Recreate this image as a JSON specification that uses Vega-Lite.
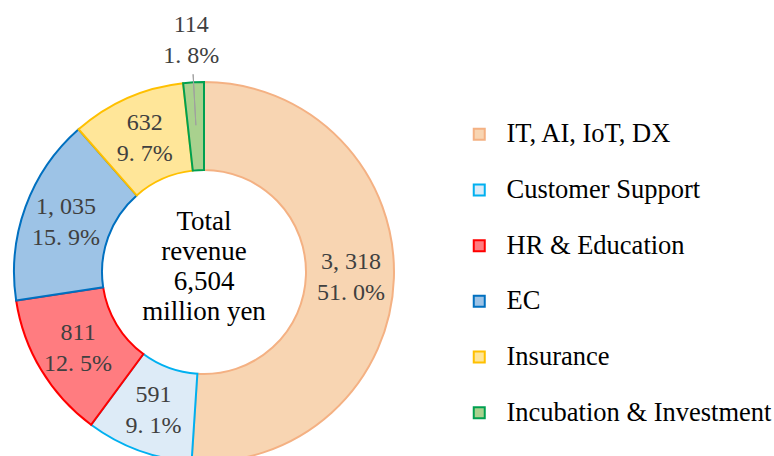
{
  "$schema": "https://vega.github.io/schema/vega-lite/v6.json",
  "width": 408,
  "height": 544,
  "padding": 0,
  "autosize": {"type": "pad"},
  "background": "white",
  "config": {"view": {"stroke": null}},
  "data": {"values": [
    {"cat": "IT, AI, IoT, DX", "value": 3318, "label": "3, 318\n51. 0%", "order": 1},
    {"cat": "Customer Support", "value": 591, "label": "591\n9. 1%", "order": 2},
    {"cat": "HR & Education", "value": 811, "label": "811\n12. 5%", "order": 3},
    {"cat": "EC", "value": 1035, "label": "1, 035\n15. 9%", "order": 4},
    {"cat": "Insurance", "value": 632, "label": "632\n9. 7%", "order": 5},
    {"cat": "Incubation & Investment", "value": 114, "label": "114\n1. 8%", "order": 6}
  ]},
  "layer": [
    {
      "mark": {"type": "arc", "radius": 190, "radius2": 102, "strokeWidth": 2},
      "encoding": {
        "theta": {"field": "value", "type": "quantitative", "stack": true},
        "order": {"field": "order", "type": "quantitative"},
        "fill": {
          "field": "cat", "type": "nominal",
          "scale": {
            "domain": ["IT, AI, IoT, DX", "Customer Support", "HR & Education", "EC", "Insurance", "Incubation & Investment"],
            "range": ["#F8D5B2", "#DDEBF7", "#FF7C80", "#9DC3E6", "#FFE699", "#A9D18E"]
          },
          "legend": {
            "orient": "none", "legendX": 466, "legendY": 121, "title": null,
            "labelFont": "Liberation Serif", "labelFontSize": 26.5, "labelColor": "black",
            "symbolType": "square", "symbolSize": 121, "symbolStrokeWidth": 2,
            "rowPadding": 28.7, "labelOffset": 14, "padding": 0, "labelLimit": 400
          }
        },
        "stroke": {
          "field": "cat", "type": "nominal",
          "scale": {
            "domain": ["IT, AI, IoT, DX", "Customer Support", "HR & Education", "EC", "Insurance", "Incubation & Investment"],
            "range": ["#F4B183", "#00B0F0", "#FF0000", "#0070C0", "#FFC000", "#00A050"]
          }
        }
      }
    },
    {
      "mark": {"type": "arc", "radius": 198, "radius2": 147, "padAngle": 0.4, "strokeWidth": 1, "fillOpacity": 0,
        "stroke": {"expr": "datum.cat === 'Incubation & Investment' ? '#a0a0a0' : 'transparent'"}},
      "encoding": {
        "theta": {"field": "value", "type": "quantitative", "stack": true},
        "order": {"field": "order", "type": "quantitative"}
      }
    },
    {
      "mark": {"type": "text", "radius": {"expr": "datum.cat === 'Incubation & Investment' ? 232 : 147"},
        "lineBreak": "\n", "font": "Liberation Serif", "fontSize": 24, "fill": "#404040", "lineHeight": 31, "dy": -15},
      "encoding": {
        "theta": {"field": "value", "type": "quantitative", "stack": true},
        "order": {"field": "order", "type": "quantitative"},
        "text": {"field": "label", "type": "nominal"}
      }
    },
    {
      "data": {"values": [{"t": "Total\nrevenue\n6,504\nmillion yen"}]},
      "mark": {"type": "text", "font": "Liberation Serif", "fontSize": 27, "lineBreak": "\n", "lineHeight": 30, "dy": -50, "fill": "black"},
      "encoding": {"text": {"field": "t", "type": "nominal"}}
    }
  ]
}
